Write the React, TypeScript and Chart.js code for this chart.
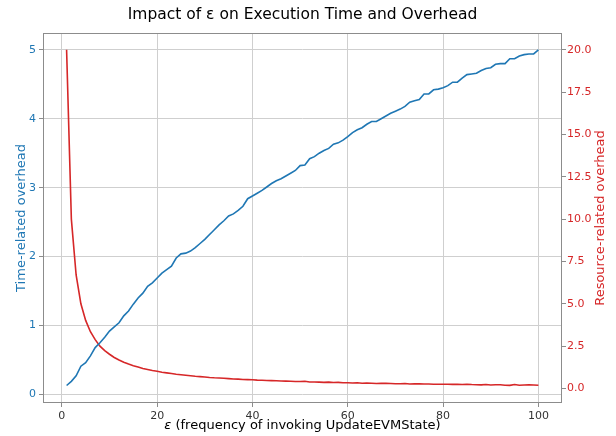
import { useEffect, useRef } from 'react';
import { Chart, registerables } from 'chart.js';

Chart.register(...registerables);

const epsilon = [
  1, 2, 3, 4, 5, 6, 7, 8, 9, 10,
  11, 12, 13, 14, 15, 16, 17, 18, 19, 20,
  21, 22, 23, 24, 25, 26, 27, 28, 29, 30,
  31, 32, 33, 34, 35, 36, 37, 38, 39, 40,
  41, 42, 43, 44, 45, 46, 47, 48, 49, 50,
  51, 52, 53, 54, 55, 56, 57, 58, 59, 60,
  61, 62, 63, 64, 65, 66, 67, 68, 69, 70,
  71, 72, 73, 74, 75, 76, 77, 78, 79, 80,
  81, 82, 83, 84, 85, 86, 87, 88, 89, 90,
  91, 92, 93, 94, 95, 96, 97, 98, 99, 100,
];

const timeOverhead = [
  0.13, 0.19, 0.27, 0.41, 0.46, 0.56, 0.68, 0.75, 0.83, 0.92,
  0.98, 1.04, 1.14, 1.21, 1.31, 1.40, 1.47, 1.57, 1.62, 1.69,
  1.76, 1.81, 1.86, 1.98, 2.04, 2.05, 2.08, 2.13, 2.19, 2.25,
  2.32, 2.39, 2.46, 2.52, 2.59, 2.62, 2.67, 2.73, 2.84, 2.88,
  2.92, 2.96, 3.01, 3.06, 3.10, 3.13, 3.17, 3.21, 3.25, 3.32,
  3.33, 3.42, 3.45, 3.50, 3.54, 3.57, 3.63, 3.65, 3.69, 3.74,
  3.80, 3.84, 3.87, 3.92, 3.96, 3.96, 4.00, 4.04, 4.08, 4.11,
  4.14, 4.18, 4.24, 4.26, 4.28, 4.36, 4.36, 4.42, 4.43, 4.45,
  4.48, 4.53, 4.53, 4.59, 4.64, 4.65, 4.66, 4.70, 4.73, 4.74,
  4.79, 4.80, 4.80, 4.87, 4.87, 4.91, 4.93, 4.94, 4.94, 5.00,
];

const resourceOverhead = [
  20.0, 10.0, 6.70, 5.00, 4.02, 3.35, 2.88, 2.50, 2.23, 2.02,
  1.83, 1.68, 1.55, 1.44, 1.34, 1.26, 1.18, 1.12, 1.06, 1.01,
  0.96, 0.92, 0.88, 0.84, 0.81, 0.78, 0.75, 0.72, 0.70, 0.68,
  0.65, 0.63, 0.62, 0.60, 0.58, 0.56, 0.55, 0.53, 0.52, 0.51,
  0.49, 0.48, 0.47, 0.46, 0.45, 0.44, 0.43, 0.42, 0.41, 0.41,
  0.42, 0.38, 0.38, 0.37, 0.36, 0.37, 0.35, 0.36, 0.34, 0.34,
  0.32, 0.34, 0.31, 0.32, 0.31, 0.29, 0.30, 0.30, 0.29, 0.28,
  0.28, 0.29, 0.26, 0.28, 0.27, 0.26, 0.26, 0.25, 0.25, 0.25,
  0.25, 0.24, 0.24, 0.23, 0.25, 0.23, 0.22, 0.21, 0.23, 0.20,
  0.22, 0.22, 0.19, 0.18, 0.23, 0.19, 0.20, 0.21, 0.20, 0.19,
];

const xTicks = [0, 20, 40, 60, 80, 100];
const leftTicks = [0, 1, 2, 3, 4, 5];
const rightTicks = [0, 2.5, 5, 7.5, 10, 12.5, 15, 17.5, 20];

const TITLE = 'Impact of ε on Execution Time and Overhead';
const X_LABEL_SYMBOL = 'ε';
const X_LABEL_REST = ' (frequency of invoking UpdateEVMState)';
const LEFT_LABEL = 'Time-related overhead';
const RIGHT_LABEL = 'Resource-related overhead';

const BLUE = '#1f77b4';
const RED = '#d62728';
const SPINE = '#8c8c8c';
const GRID = '#cfcfcf';
const FONT = "'DejaVu Sans', sans-serif";

const decorPlugin = {
  id: 'decor',
  afterDraw(chart: any) {
    const { ctx, chartArea: a } = chart;
    ctx.save();
    // frame
    ctx.strokeStyle = SPINE;
    ctx.lineWidth = 1;
    ctx.strokeRect(Math.round(a.left) + 0.5, Math.round(a.top) + 0.5,
      Math.round(a.right - a.left) - 1, Math.round(a.bottom - a.top) - 1);
    const midX = (a.left + a.right) / 2;
    const midY = (a.top + a.bottom) / 2;
    // title
    ctx.fillStyle = '#000';
    ctx.textAlign = 'center';
    ctx.textBaseline = 'middle';
    ctx.font = `15.5px ${FONT}`;
    ctx.fillText(TITLE, midX, 15);
    // x label
    ctx.font = `italic 13px ${FONT}`;
    const w1 = ctx.measureText(X_LABEL_SYMBOL).width;
    ctx.font = `13px ${FONT}`;
    const w2 = ctx.measureText(X_LABEL_REST).width;
    const x0 = midX - (w1 + w2) / 2;
    ctx.textAlign = 'left';
    ctx.font = `italic 13px ${FONT}`;
    ctx.fillText(X_LABEL_SYMBOL, x0, 426);
    ctx.font = `13px ${FONT}`;
    ctx.fillText(X_LABEL_REST, x0 + w1, 426);
    // left label
    ctx.textAlign = 'center';
    ctx.save();
    ctx.translate(22, midY);
    ctx.rotate(-Math.PI / 2);
    ctx.fillStyle = BLUE;
    ctx.fillText(LEFT_LABEL, 0, 0);
    ctx.restore();
    // right label
    ctx.save();
    ctx.translate(601, midY);
    ctx.rotate(-Math.PI / 2);
    ctx.fillStyle = RED;
    ctx.fillText(RIGHT_LABEL, 0, 0);
    ctx.restore();
    ctx.restore();
  },
};

export default function App() {
  const ref = useRef<HTMLCanvasElement>(null);

  useEffect(() => {
    if (!ref.current) return;
    const chart = new Chart(ref.current, {
      type: 'line',
      data: {
        datasets: [
          {
            label: LEFT_LABEL,
            data: epsilon.map((x, i) => ({ x, y: timeOverhead[i] })),
            borderColor: BLUE,
            borderWidth: 1.6,
            pointRadius: 0,
            tension: 0,
            yAxisID: 'y',
          },
          {
            label: RIGHT_LABEL,
            data: epsilon.map((x, i) => ({ x, y: resourceOverhead[i] })),
            borderColor: RED,
            borderWidth: 1.6,
            pointRadius: 0,
            tension: 0,
            yAxisID: 'y1',
          },
        ],
      },
      options: {
        responsive: false,
        devicePixelRatio: 1,
        animation: false,
        layout: { padding: { top: 33, left: 0, right: 0, bottom: 0 } },
        plugins: { legend: { display: false }, title: { display: false }, tooltip: { enabled: false } },
        scales: {
          x: {
            type: 'linear',
            min: -3.95,
            max: 104.95,
            afterBuildTicks: (s: any) => { s.ticks = xTicks.map((v) => ({ value: v })); },
            afterFit: (s: any) => { s.height = 33; },
            border: { display: false },
            grid: { color: GRID, lineWidth: 1, drawTicks: true, tickLength: 4, tickColor: SPINE },
            ticks: { color: '#333', font: { family: FONT, size: 11 }, padding: 3, maxRotation: 0, callback: (v: any) => String(v) },
          },
          y: {
            type: 'linear',
            position: 'left',
            min: -0.124,
            max: 5.244,
            afterBuildTicks: (s: any) => { s.ticks = leftTicks.map((v) => ({ value: v })); },
            afterFit: (s: any) => { s.width = 43; },
            border: { display: false },
            grid: { color: GRID, lineWidth: 1, drawTicks: true, tickLength: 4, tickColor: SPINE },
            ticks: { color: BLUE, font: { family: FONT, size: 11 }, padding: 3, callback: (v: any) => String(v) },
          },
          y1: {
            type: 'linear',
            position: 'right',
            min: -0.86,
            max: 20.99,
            afterBuildTicks: (s: any) => { s.ticks = rightTicks.map((v) => ({ value: v })); },
            afterFit: (s: any) => { s.width = 54; },
            border: { display: false },
            grid: { drawOnChartArea: false, drawTicks: true, tickLength: 4, tickColor: SPINE, color: SPINE },
            ticks: { color: RED, font: { family: FONT, size: 11 }, padding: 1, callback: (v: any) => Number(v).toFixed(1) },
          },
        },
      },
      plugins: [decorPlugin],
    });
    return () => chart.destroy();
  }, []);

  return (
    <div style={{ position: 'fixed', left: 0, top: 0, width: 616, height: 436, background: '#fff' }}>
      <canvas ref={ref} width={616} height={436} style={{ display: 'block' }} />
    </div>
  );
}
